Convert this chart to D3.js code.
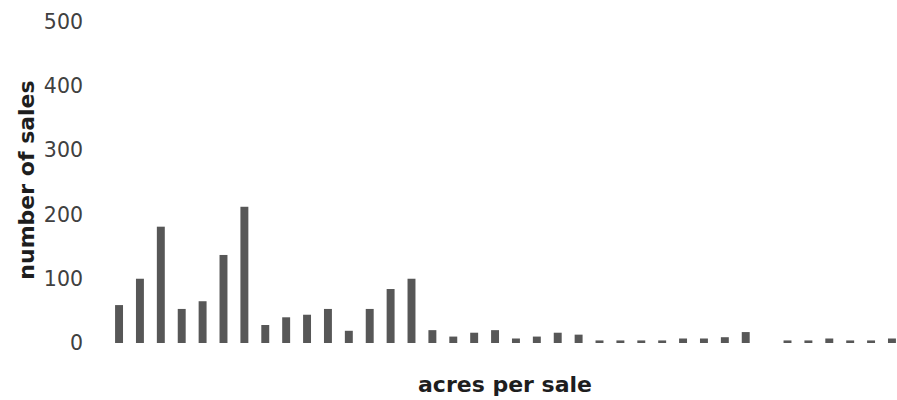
<!DOCTYPE html>
<html>
<head>
<meta charset="utf-8">
<script src="https://cdn.jsdelivr.net/npm/d3@7"></script>
<style>
  html, body { margin: 0; padding: 0; background: #fff; }
  svg { display: block; }
</style>
</head>
<body>
<div id="chart"></div>
<script>
// ---- data ----
const categories = ["1","2","3","4","5","6","7","8","9","10","11","12","13","14","15","16","17","18","19",
  "20","21","22","23","24","25","26","27","28","29","30","31","32","33","34","35","36","37","38"];
const sales = [59,100,181,53,65,137,212,28,40,44,53,19,53,84,100,
  20,10,16,20,7,10,16,13,
  4,4,4,4,
  7,7,9,17,
  0,
  4,4,7,4,4,7];
const yTicks = [0,100,200,300,400,500];
const xTitle = "acres per sale";
const yTitle = "number of sales";

// ---- layout ----
const W = 897, H = 400;
const svg = d3.select("#chart").append("svg").attr("width", W).attr("height", H);

const x = d3.scaleBand()
  .domain(categories)
  .range([108.6, 902.4])
  .paddingInner(0.62)
  .paddingOuter(0.31);

const y = d3.scaleLinear().domain([0, 500]).range([343, 21.7]);

// bars
svg.append("g").selectAll("rect")
  .data(sales)
  .join("rect")
  .attr("x", (d, i) => x(categories[i]))
  .attr("width", x.bandwidth())
  .attr("y", d => y(d))
  .attr("height", d => y(0) - y(d))
  .attr("fill", "#575757");

// y axis (labels only)
const yAxis = d3.axisLeft(y).tickValues(yTicks).tickSize(0).tickPadding(0);
const gy = svg.append("g").attr("transform", "translate(83,0)").call(yAxis);
gy.select(".domain").remove();
gy.selectAll("text")
  .attr("font-family", "DejaVu Sans, sans-serif")
  .attr("font-size", 20.5)
  .attr("fill", "#404040");

// titles
svg.append("text")
  .attr("x", 505).attr("y", 392)
  .attr("text-anchor", "middle")
  .attr("font-family", "DejaVu Sans, sans-serif")
  .attr("font-weight", "bold")
  .attr("font-size", 22)
  .attr("fill", "#1e1e1e")
  .text(xTitle);

svg.append("text")
  .attr("transform", "translate(34,180) rotate(-90)")
  .attr("text-anchor", "middle")
  .attr("font-family", "DejaVu Sans, sans-serif")
  .attr("font-weight", "bold")
  .attr("font-size", 22)
  .attr("fill", "#1e1e1e")
  .text(yTitle);
</script>
</body>
</html>
